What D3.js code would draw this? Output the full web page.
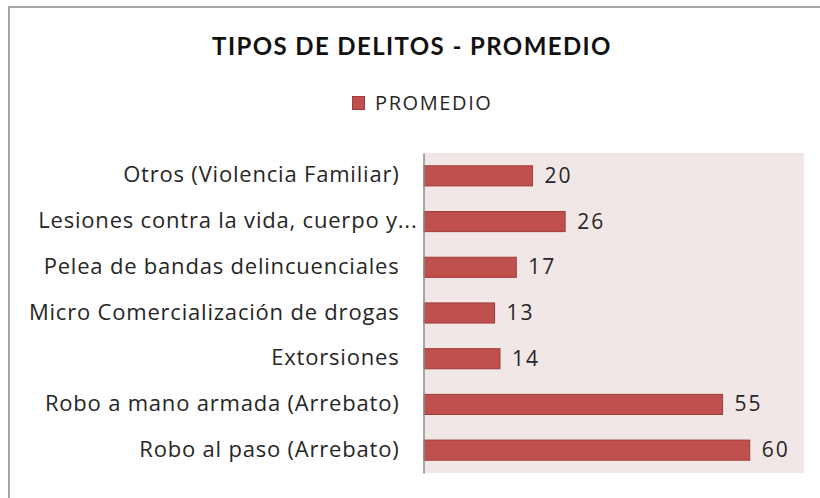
<!DOCTYPE html>
<html>
<head>
<meta charset="utf-8">
<script src="https://cdn.jsdelivr.net/npm/d3@7"></script>
<style>
  body { margin: 0; background: #fff; }
  text { font-family: "Open Sans", sans-serif; fill: #262626; }
</style>
</head>
<body>
<svg id="chart" width="820" height="498"></svg>
<script>
const categories = [
  'Otros (Violencia Familiar)',
  'Lesiones contra la vida, cuerpo y...',
  'Pelea de bandas delincuenciales',
  'Micro Comercialización de drogas',
  'Extorsiones',
  'Robo a mano armada (Arrebato)',
  'Robo al paso (Arrebato)',
];
const promedio = [20, 26, 17, 13, 14, 55, 60];
const seriesName = 'PROMEDIO';
const title = 'TIPOS DE DELITOS - PROMEDIO';

const svg = d3.select('#chart');
const barColor = '#c0504d';

// outer frame (right edge falls outside the picture)
svg.append('rect')
  .attr('x', 9).attr('y', 7)
  .attr('width', 830).attr('height', 500)
  .attr('fill', 'none')
  .attr('stroke', '#a6a6a6')
  .attr('stroke-width', 2);

svg.append('text')
  .text(title)
  .attr('x', 412)
  .attr('y', 55)
  .attr('text-anchor', 'middle')
  .style('font-family', 'Lato, sans-serif')
  .style('font-size', '24px')
  .style('font-weight', 'bold')
  .style('letter-spacing', '1.4px')
  .style('fill', '#111');

// legend
const legend = svg.append('g');
legend.append('rect')
  .attr('x', 352.5).attr('y', 96.5)
  .attr('width', 12).attr('height', 13)
  .attr('fill', barColor)
  .attr('stroke', '#a03c3a');
legend.append('text')
  .text(seriesName)
  .attr('x', 375)
  .attr('y', 110)
  .style('font-size', '20px')
  .style('letter-spacing', '1.6px');

const plot = { left: 424, right: 804, top: 153, bottom: 473 };

const x = d3.scaleLinear().domain([0, 70]).range([plot.left, plot.right]);
const y = d3.scaleBand().domain(categories).range([plot.top, plot.bottom]).paddingInner(0.56).paddingOuter(0.28);

svg.append('rect')
  .attr('x', plot.left).attr('y', plot.top)
  .attr('width', plot.right - plot.left)
  .attr('height', plot.bottom - plot.top)
  .attr('fill', '#f2e7e7');

svg.selectAll('.bar')
  .data(promedio)
  .enter()
  .append('rect')
  .attr('class', 'bar')
  .attr('x', x(0))
  .attr('y', (d, i) => y(categories[i]))
  .attr('width', (d) => x(d) - x(0))
  .attr('height', y.bandwidth())
  .attr('fill', barColor)
  .attr('stroke', '#a03c3a')
  .attr('stroke-width', 1);

svg.selectAll('.value')
  .data(promedio)
  .enter()
  .append('text')
  .attr('class', 'value')
  .text((d) => d)
  .attr('x', (d) => x(d) + 12)
  .attr('y', (d, i) => y(categories[i]) + y.bandwidth() / 2)
  .attr('dy', '0.33em')
  .style('font-size', '21px')
  .style('letter-spacing', '2px');

const yAxis = svg.append('g')
  .attr('transform', `translate(${plot.left - 0.5},0)`)
  .call(d3.axisLeft(y).tickSize(0).tickPadding(24));
yAxis.select('.domain').attr('stroke', '#8c8c8c').attr('stroke-width', 1.5);
yAxis.selectAll('text')
  .attr('dy', '0.3em')
  // the truncated label runs closer to the axis, as in the original
  .attr('dx', (d) => (d.endsWith('...') ? 18 : 0))
  .style('font-size', '22px')
  .style('letter-spacing', '0.8px')
  .style('fill', '#262626')
  .style('font-family', '"Open Sans", sans-serif');
</script>
</body>
</html>
